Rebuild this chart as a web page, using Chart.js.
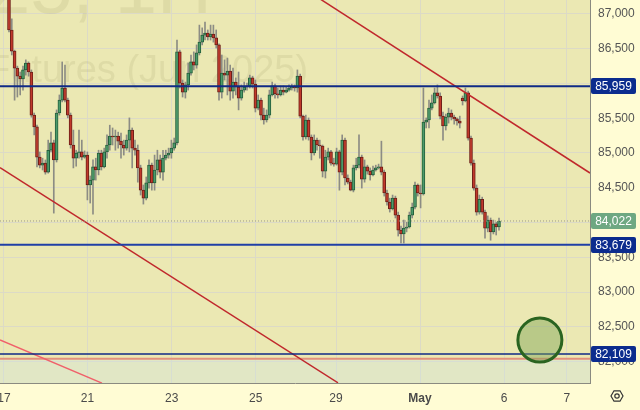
<!DOCTYPE html>
<html>
<head>
<meta charset="utf-8">
<script src="https://cdn.jsdelivr.net/npm/chart.js@4.4.1/dist/chart.umd.min.js"></script>
<style>
  html, body { margin: 0; padding: 0; background: #fffcd4; }
</style>
</head>
<body>
<canvas id="chart" width="640" height="410"></canvas>
<script>
// SiM2025, 1H - hourly candles, one entry per bar
const opens = [
  87275, 86770, 86465, 86220, 86105, 86065, 86195, 86295, 86165, 85545,
  85375, 84940, 84825, 84855, 84725, 85040, 85145, 84900, 85575, 85760,
  85935, 85760, 85545, 85115, 84925, 85000, 85015, 84940, 84970, 84540,
  84610, 84800, 84755, 85000, 84800, 85015, 85115, 85245, 85230, 85245,
  85170, 85115, 85070, 85185, 85330, 85070, 85040, 84785, 84465, 84350,
  84570, 84825, 84570, 84755, 84900, 84725, 84925, 84970, 85000, 85070,
  85145, 86455, 86005, 85875, 85980, 86150, 86310, 86265, 86440, 86595,
  86695, 86725, 86670, 86710, 86655, 86555, 85875, 86150, 86120, 86180,
  85890, 86020, 85950, 85790, 85905, 85950, 85965, 86080, 85990, 85645,
  85760, 85545, 85475, 85545, 85835, 85965, 85850, 85835, 85905, 85875,
  85905, 85935, 85950, 85935, 86105, 85530, 85230, 85475, 85230, 85000,
  85185, 85115, 85100, 84740, 84940, 85015, 84855, 84840, 85015, 84725,
  85185, 84640, 84580, 84465, 84785, 84825, 84940, 84625, 84800, 84740,
  84685, 84755, 84785, 84800, 84725, 84425, 84295, 84195, 84350, 84105,
  83890, 83835, 83920, 83935, 84105, 84220, 84540, 84425, 84410, 85445,
  85475, 85645, 85720, 85865, 85820, 85530, 85390, 85515, 85575, 85515,
  85490, 85460, 85790, 85750, 85865, 85215, 84855, 84495, 84150, 84335,
  84150, 83920, 84035, 83865, 83980, 83935
];
const highs = [
  87315, 86930, 86480, 86250, 86165, 86250, 86340, 86310, 86195, 85575,
  85400, 85015, 84925, 84900, 85185, 85300, 85185, 85620, 85835, 86310,
  86265, 85790, 85575, 85330, 85040, 85330, 85185, 85030, 85015, 84670,
  84900, 84925, 85040, 85040, 85070, 85260, 85400, 85360, 85330, 85300,
  85285, 85185, 85260, 85505, 85360, 85185, 85115, 84825, 84540, 84655,
  84900, 84855, 84970, 85040, 84970, 85040, 85040, 85070, 85185, 85215,
  86625, 86480, 86050, 86020, 86295, 86410, 86455, 86555, 86840, 86800,
  86885, 86770, 86840, 86840, 86770, 86570, 86410, 86340, 86365, 86265,
  86220, 86080, 86165, 85980, 86020, 86005, 86120, 86105, 86050, 85835,
  85790, 85645, 85620, 85905, 86020, 85990, 85935, 85965, 85965, 85950,
  85980, 85990, 85980, 86195, 86135, 85545, 85545, 85505, 85260, 85260,
  85215, 85185, 85115, 85040, 85070, 85040, 84925, 85070, 85040, 85260,
  85215, 84685, 84610, 84825, 84925, 85260, 84970, 84900, 84825, 84785,
  84810, 84825, 84840, 85170, 84755, 84465, 84350, 84395, 84380, 84150,
  83950, 84035, 84005, 84150, 84280, 84580, 84555, 84540, 85935, 85505,
  85760, 85835, 85935, 85980, 85865, 85590, 85560, 85645, 85620, 85545,
  85505, 85530, 85820, 85935, 85890, 85245, 84900, 84540, 84395, 84365,
  84180, 84095, 84065, 84035, 84005, 84065
];
const lows = [
  86740, 86410, 85760, 85805, 85835, 85905, 86120, 86105, 85515, 85260,
  84800, 84785, 84755, 84695, 84710, 85015, 84135, 84870, 85545, 85735,
  85735, 85505, 85070, 84785, 84810, 84925, 84900, 84925, 84325, 84280,
  84120, 84610, 84685, 84755, 84785, 84925, 85040, 85115, 85040, 85070,
  84925, 84970, 85040, 85015, 84785, 84970, 84580, 84395, 84265, 84325,
  84495, 84465, 84465, 84685, 84640, 84610, 84900, 84925, 84925, 85040,
  85115, 85935, 85805, 85790, 85905, 86120, 86195, 86220, 86410, 86555,
  86625, 86625, 86625, 86595, 86510, 85760, 85790, 86050, 85835, 85760,
  85790, 85835, 85620, 85760, 85875, 85905, 85935, 85935, 85590, 85620,
  85475, 85415, 85445, 85505, 85820, 85790, 85790, 85820, 85835, 85865,
  85890, 85905, 85890, 85875, 85505, 85185, 85200, 85185, 84900, 84970,
  85040, 84925, 84655, 84640, 84900, 84825, 84810, 84825, 84465, 84685,
  84540, 84555, 84455, 84440, 84755, 84785, 84495, 84580, 84695, 84610,
  84670, 84740, 84770, 84685, 84380, 84250, 84150, 84180, 84065, 83805,
  83705, 83705, 83865, 83920, 84065, 84195, 84380, 84210, 84395, 85360,
  85360, 85620, 85705, 85790, 85490, 85185, 85330, 85430, 85475, 85415,
  85400, 85360, 85690, 85735, 85185, 84825, 84465, 84105, 84120, 84120,
  83775, 83865, 83745, 83835, 83820, 83890
];
const closes = [
  86770, 86465, 86220, 86105, 86065, 86195, 86295, 86165, 85545, 85375,
  84940, 84825, 84855, 84725, 85040, 85145, 84900, 85575, 85760, 85935,
  85760, 85545, 85115, 84925, 85000, 85015, 84940, 84970, 84540, 84610,
  84800, 84755, 85000, 84800, 85015, 85115, 85245, 85230, 85245, 85170,
  85115, 85070, 85185, 85330, 85070, 85040, 84785, 84465, 84350, 84570,
  84825, 84570, 84755, 84900, 84725, 84925, 84970, 85000, 85070, 85145,
  86455, 86005, 85875, 85980, 86150, 86310, 86265, 86440, 86595, 86695,
  86725, 86670, 86710, 86655, 86555, 85875, 86150, 86120, 86180, 85890,
  86020, 85950, 85790, 85905, 85950, 85965, 86080, 85990, 85645, 85760,
  85545, 85475, 85545, 85835, 85965, 85850, 85835, 85905, 85875, 85905,
  85935, 85950, 85935, 86105, 85530, 85230, 85475, 85230, 85000, 85185,
  85115, 85100, 84740, 84940, 85015, 84855, 84840, 85015, 84725, 85185,
  84640, 84580, 84465, 84785, 84825, 84940, 84625, 84800, 84740, 84685,
  84755, 84785, 84800, 84725, 84425, 84295, 84195, 84350, 84105, 83890,
  83835, 83920, 83935, 84105, 84220, 84540, 84425, 84410, 85445, 85475,
  85645, 85720, 85865, 85820, 85530, 85390, 85515, 85575, 85515, 85490,
  85460, 85430, 85750, 85865, 85215, 84855, 84495, 84150, 84335, 84150,
  83920, 84035, 83865, 83980, 83935, 84022
];

// date ticks (bar index where each day starts)
const dayTickPos = [-1.8, 28, 58.1, 88.1, 116.8, 146.8, 176.8, 199.2];
const dayTickLabels = ['17', '21', '23', '25', '29', 'May', '6', '7'];
// price ticks
const priceTicks = [82000, 82500, 83000, 83500, 84000, 84500, 85000, 85500, 86000, 86500, 87000];

// drawn levels and trendlines
const levelPrices = [85959, 83679, 82109];
const lastPrice = 84022;
const supportPrice = 82040;
const upperTrendX = [111.1, 207.5];
const upperTrendY = [87216, 84712];
const lowerTrendX = [-3.21, 117.5];
const lowerTrendY = [84788, 81694];
const pinkTrendX = [-3.21, 33.2];
const pinkTrendY = [82309, 81690];
const targetX = 189.6;
const targetY = 82309;

const X_MIN = -3.21, X_MAX = 207.5;
const Y_MIN = 81691, Y_MAX = 87201;
const FONT = 'Liberation Sans, Arial, sans-serif';

const idx = closes.map((c, i) => i);
const up = idx.map(i => closes[i] >= opens[i]);

function hline(v, color, width, dash) {
  return {
    type: 'line',
    data: [{ x: X_MIN, y: v }, { x: X_MAX, y: v }],
    borderColor: color, borderWidth: width, borderDash: dash || [],
    pointRadius: 0, order: 1
  };
}
function seg(xs, ys, color, width) {
  return {
    type: 'line',
    data: xs.map((x, i) => ({ x: x, y: ys[i] })),
    borderColor: color, borderWidth: width, pointRadius: 0, order: 1
  };
}

const bgPlugin = {
  id: 'bg',
  beforeDraw(chart) {
    const { ctx, chartArea: a } = chart;
    ctx.save();
    ctx.fillStyle = '#fffcd4';
    ctx.fillRect(0, 0, chart.width, chart.height);
    ctx.fillStyle = '#ebe8b3';
    ctx.fillRect(a.left, a.top, a.right - a.left, a.bottom - a.top);
    ctx.restore();
  },
  beforeDatasetsDraw(chart) {
    const { ctx, chartArea: a } = chart;
    ctx.save();
    ctx.beginPath();
    ctx.rect(a.left, a.top, a.right - a.left, a.bottom - a.top);
    ctx.clip();
    ctx.fillStyle = 'rgba(150,140,90,0.14)';
    ctx.textBaseline = 'alphabetic';
    ctx.textAlign = 'right';
    ctx.font = '76px ' + FONT;
    ctx.fillText('SiM2025, 1H', 212, 13);
    ctx.textAlign = 'left';
    ctx.font = '38px ' + FONT;
    ctx.fillText('Futures (Jun 2025)', -13, 82);
    ctx.restore();
  }
};

const labelPlugin = {
  id: 'priceLabels',
  afterDraw(chart) {
    const { ctx } = chart;
    const ys = chart.scales.y;
    const boxes = [
      [levelPrices[0], '#0c2c8e'],
      [lastPrice, '#6ea882'],
      [levelPrices[1], '#0c2c8e'],
      [levelPrices[2], '#0c2c8e']
    ];
    ctx.save();
    ctx.font = '12px ' + FONT;
    ctx.textAlign = 'center';
    ctx.textBaseline = 'middle';
    boxes.forEach(([v, bg]) => {
      const y = Math.round(ys.getPixelForValue(v));
      ctx.fillStyle = bg;
      ctx.beginPath();
      ctx.roundRect(591, y - 8, 45, 16, 2);
      ctx.fill();
      ctx.fillStyle = '#ffffff';
      ctx.fillText(v.toLocaleString('en-US'), 613.5, y + 1);
    });
    // settings icon in the corner
    ctx.strokeStyle = '#333';
    ctx.lineWidth = 1.2;
    ctx.beginPath();
    for (let k = 0; k < 6; k++) {
      const ang = Math.PI / 3 * k;
      const px = 617 + 6 * Math.cos(ang), py = 396 + 6 * Math.sin(ang);
      k ? ctx.lineTo(px, py) : ctx.moveTo(px, py);
    }
    ctx.closePath();
    ctx.stroke();
    ctx.beginPath();
    ctx.arc(617, 396, 2.2, 0, Math.PI * 2);
    ctx.stroke();
    ctx.restore();
  }
};

const ctx = document.getElementById('chart').getContext('2d');
new Chart(ctx, {
  type: 'bar',
  data: {
    datasets: [
      {
        type: 'bar',
        data: idx.map(i => ({ x: i, y: [lows[i], highs[i]] })),
        backgroundColor: '#8c8c84',
        barThickness: 1,
        grouped: false,
        order: 5
      },
      {
        type: 'bar',
        data: idx.map(i => ({ x: i, y: [opens[i], closes[i]] })),
        backgroundColor: up.map(u => u ? '#4c9a6a' : '#c0392b'),
        borderColor: up.map(u => u ? '#245f3c' : '#6e1f18'),
        borderWidth: 1,
        borderSkipped: false,
        barThickness: 3,
        minBarLength: 1,
        grouped: false,
        order: 4
      },
      Object.assign(hline(supportPrice, '#e3907c', 2), {
        fill: 'start', backgroundColor: 'rgba(205,228,232,0.35)', order: 3
      }),
      hline(lastPrice, '#9a9a8a', 1, [1, 2]),
      hline(levelPrices[0], '#0f2a86', 2),
      hline(levelPrices[1], '#1f3fa6', 2),
      hline(levelPrices[2], '#0f2a86', 1.5),
      seg(upperTrendX, upperTrendY, '#c0282c', 1.5),
      seg(lowerTrendX, lowerTrendY, '#c0282c', 1.5),
      seg(pinkTrendX, pinkTrendY, '#f0606a', 1.5),
      {
        type: 'scatter',
        data: [{ x: targetX, y: targetY }],
        pointRadius: 22,
        borderWidth: 3,
        borderColor: '#2a6420',
        backgroundColor: 'rgba(125,165,85,0.45)',
        order: 0
      }
    ]
  },
  options: {
    responsive: false,
    animation: false,
    events: [],
    layout: { padding: 0, autoPadding: false },
    plugins: { legend: { display: false }, tooltip: { enabled: false } },
    scales: {
      x: {
        type: 'linear',
        min: X_MIN,
        max: X_MAX,
        offset: false,
        grid: { color: '#dcdac6', drawTicks: false, offset: false },
        border: { color: '#8a8a80' },
        ticks: {
          autoSkip: false,
          maxRotation: 0,
          padding: 8,
          color: '#4a4a4a',
          font: c => ({ family: FONT, size: 12, weight: c.index === 5 ? 'bold' : 'normal' }),
          callback: (v, i) => dayTickLabels[i]
        },
        afterBuildTicks: s => { s.ticks = dayTickPos.map(v => ({ value: v })); },
        afterFit: s => { s.height = 27; s.paddingLeft = 0; s.paddingRight = 0; }
      },
      y: {
        position: 'right',
        min: Y_MIN,
        max: Y_MAX,
        grid: { color: '#dcdac6', drawTicks: false },
        border: { color: '#8a8a80' },
        ticks: {
          padding: 8,
          color: '#555555',
          font: { family: FONT, size: 12 },
          callback: v => v.toLocaleString('en-US')
        },
        afterBuildTicks: s => { s.ticks = priceTicks.map(v => ({ value: v })); },
        afterFit: s => { s.width = 50; s.paddingTop = 0; s.paddingBottom = 0; }
      }
    }
  },
  plugins: [bgPlugin, labelPlugin]
});
</script>
</body>
</html>
